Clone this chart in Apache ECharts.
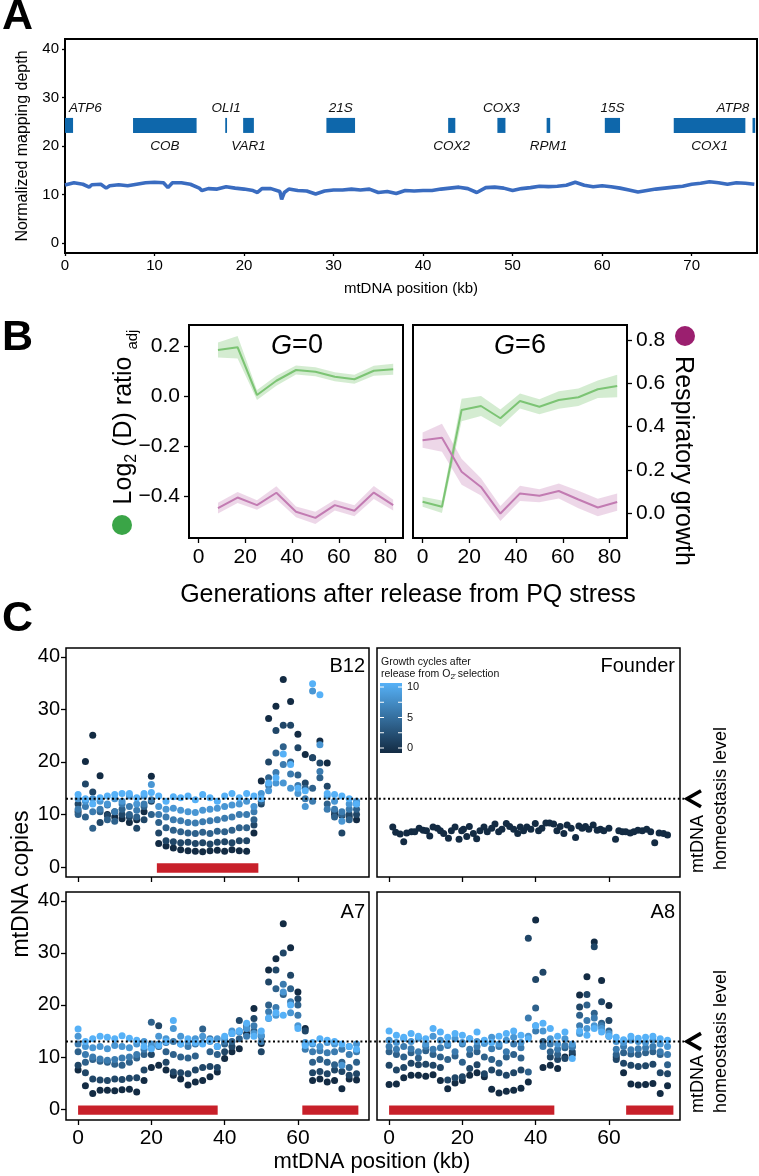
<!DOCTYPE html>
<html><head><meta charset="utf-8">
<script src="https://cdn.jsdelivr.net/npm/echarts@6/dist/echarts.min.js"></script>
<style>html,body{margin:0;padding:0;background:#fff}#c{width:759px;height:1176px}</style>
</head><body><div id="c"></div>
<script>
const FONT = 'Liberation Sans, Arial, Helvetica, sans-serif';

// ---------- Panel A data ----------
const posA = [0,1,2,2.7,3,4,4.6,5,6,7,8,9,10,11,11.5,12,13,14,15,15.3,16,17,18,19,20,21,21.5,22,23,24,24.2,24.5,25,26,27,28,29,30,31,32,33,34,35,36,37,38,39,40,41,42,43,44,45,46,47,48,49,50,51,52,53,54,55,56,57,58,59,60,61,62,63,64,65,66,67,68,69,70,71,72,73,74,75,76,77];
const depthA = [11.96,12.4,12.1,11.5,12.0,12.1,11.3,11.8,12.0,11.8,12.1,12.4,12.5,12.4,11.4,12.4,12.4,12.1,11.3,10.8,11.2,11.1,11.6,11.3,11.1,10.8,10.4,11.2,11.2,10.6,9.0,10.4,11.1,10.8,10.7,10.1,10.7,10.9,10.9,11.1,10.9,11.1,10.4,10.6,10.2,10.8,10.7,10.8,10.8,11.1,11.3,11.5,11.2,10.4,11.4,11.5,11.3,10.8,11.2,11.4,11.7,11.6,11.7,11.9,12.5,11.9,11.6,11.8,11.6,11.3,10.9,10.5,10.8,11.1,11.3,11.5,11.7,12.1,12.3,12.6,12.4,12.1,12.4,12.3,12.1];
const geneNames = ['ATP6','COB','OLI1','VAR1','21S','COX2','COX3','RPM1','15S','COX1','ATP8'];
const geneStart = [0, 7.6, 17.9, 19.9, 29.2, 42.8, 48.3, 53.8, 60.3, 68.0, 76.8];
const geneEnd   = [0.9, 14.7, 18.1, 21.1, 32.4, 43.6, 49.2, 54.2, 62.0, 76.0, 77.1];
const geneSide  = ['top','bottom','top','bottom','top','bottom','top','bottom','top','bottom','top'];
const xTicksA = [0,10,20,30,40,50,60,70];
const yTicksA = [0,10,20,30,40];

// ---------- Panel B data ----------
const genG0 = [8.3,16.7,25,33.3,41.7,50,58.3,66.7,75,83.3];
const logG0 = [0.184,0.195,0.004,0.061,0.104,0.097,0.077,0.067,0.101,0.107];
const logG0Half = [0.03,0.045,0.02,0.02,0.018,0.018,0.018,0.018,0.02,0.022];
const respG0 = [0.023,0.072,0.037,0.094,0.006,-0.022,0.037,0.011,0.095,0.037];
const respG0Half = [0.025,0.025,0.022,0.03,0.025,0.028,0.025,0.025,0.03,0.025];
const genG6 = [0,8.3,16.7,25,33.3,41.7,50,58.3,66.7,75,83.3];
const logG6 = [-0.423,-0.443,-0.056,-0.04,-0.089,-0.02,-0.043,-0.016,-0.005,0.027,0.04];
const logG6Half = [0.02,0.025,0.045,0.04,0.035,0.03,0.03,0.035,0.035,0.035,0.045];
const respG6 = [0.337,0.348,0.191,0.121,-0.002,0.091,0.08,0.102,0.063,0.026,0.051];
const respG6Half = [0.035,0.065,0.06,0.04,0.035,0.035,0.03,0.035,0.04,0.04,0.04];
const xTicksB = [0,20,40,60,80];
const yTicksLog = [-0.4,-0.2,0,0.2];
const yTicksResp = [0,0.2,0.4,0.6,0.8];

// ---------- Panel C data ----------
const posC = [0,2,4,6,8,10,12,14,16,18,20,22,24,26,28,30,32,34,36,38,40,42,44,46,48,50,52,54,56,58,60,62,64,66,68,70,72,74,76];
const cyclesC = [0,2,4,6,8,10];
const b12Copies = [
 [10.5,20.1,25.1,17.4,10,9.5,9.2,8.5,9,10.5,17.3,4.5,4,3.6,3.3,3.1,3,2.9,3.1,3.2,3,3.3,3.1,3,6.5,16.4,28.3,30.6,35.7,31.5,25.3,21.4,20.8,24,19.8,10,9.8,9.5,9],
 [12,15.8,14.3,8.5,9.8,10.5,10,9.5,7.4,9,12.5,6.5,5,4.8,4.6,4.7,4.5,4.6,4.4,4.7,4.8,4.6,5,5,8,12,20,26,27,27,22.7,16,20.8,19.8,15.4,10.5,6.5,10,10],
 [10,9.5,7.4,10.5,9,8.7,11,10,9.5,11.5,10,8.5,7.5,7,6.7,6.5,6.4,6.6,6.4,6.8,6.7,7,7.5,7.5,9,12.5,17,21.7,22.9,20,17.5,15,15,17,12,9.5,10,9,11],
 [11,11.5,10.5,11,11.8,10.5,12,11.5,10.8,12,12.8,10,9.5,9,8.8,8.5,8.4,8.6,8.8,9,9.3,9.5,10,10,10.5,13,15.5,18,19.5,17.7,15.5,13,12.5,18.2,11,11,10.5,11,12],
 [13,12.5,13,12.5,12,13,12.5,13.5,12,13.5,15.7,11.5,11,11.2,10.8,10.5,10.4,10.8,11,11.2,11.5,11.8,12,12.5,11.5,14,14.5,16,16,15,14,11.5,33.5,23.3,13.5,12.5,8.7,12,12.5],
 [13.8,13,12,13.2,13.5,13.8,14,14,13.2,14,14.2,13.5,12.5,13.4,13.2,13.5,12.8,13.8,13.2,12.5,13.5,14,13.2,14,13.5,13,16,17,21.5,19.5,15,14.5,34.9,32.8,14,13.8,13.5,13,12]
];
const a7Copies = [
 [7.5,4.5,3.0,3.6,3.6,3.5,3.7,3.8,3.3,5.5,8.0,8.4,7.5,6.5,5.8,4.6,5.2,5.5,6.2,7.1,9.7,11.0,11.6,14.5,19.3,12.6,26.7,28.9,35.6,31.0,22.5,15.5,5.5,5.8,5.2,5.5,3.9,5.8,5.6],
 [8.4,7.0,5.8,5.6,5.5,5.8,5.7,5.9,6.0,7.5,10.5,16.0,9.0,7.1,7.0,6.8,7.5,8.0,8.2,8.0,11.0,12.0,17.0,15.5,17.4,11.0,24.4,26.7,30.0,25.7,21.2,15.0,7.0,7.2,6.8,7.5,7.2,6.5,6.8],
 [11.0,9.0,9.5,9.2,9.0,8.6,8.4,9.0,9.8,10.5,16.7,12.0,11.0,10.5,10.0,9.8,10.2,15.4,11.0,10.5,12.5,13.0,13.5,16.0,15.0,14.0,20.0,23.1,22.0,23.1,20.0,12.5,9.0,9.5,9.0,8.5,9.0,8.0,9.0],
 [12.5,10.5,10.0,9.6,9.4,9.5,9.8,10.0,10.5,11.5,12.0,12.5,12.8,13.0,12.5,12.0,12.5,12.8,13.5,12.0,13.0,14.5,15.0,14.0,16.0,13.0,18.7,19.5,24.0,20.6,18.0,11.5,11.0,11.2,10.8,11.0,11.5,10.5,11.0],
 [14.0,12.0,11.8,12.0,11.6,12.2,12.0,11.8,12.5,13.0,12.5,14.0,13.5,15.5,14.0,13.0,13.5,14.0,13.0,13.5,13.5,15.0,14.8,15.5,14.5,14.2,17.4,18.0,22.5,18.5,16.0,12.8,12.5,12.0,12.8,12.5,8.4,12.0,12.5],
 [15.4,13.0,13.5,14.0,13.8,13.5,14.1,13.6,13.2,12.0,11.6,12.2,13.0,17.0,12.5,13.5,12.8,12.5,13.2,12.0,14.0,14.5,15.0,16.5,14.0,15.0,17.5,18.5,18.0,20.0,15.5,12.2,12.8,13.5,13.2,13.0,12.5,12.0,11.5]
];
const a8Copies = [
 [4.7,4.8,6.0,6.5,6.5,6.3,6.6,5.5,3.9,5.0,5.5,6.5,7.0,6.2,3.8,3.1,3.4,3.6,4.0,5.2,36.3,8.0,8.4,7.8,10.0,10.5,21.9,25.4,32.1,24.7,19.9,10.0,7.0,4.8,4.6,4.7,4.9,3.0,4.5],
 [8.4,7.5,8.0,8.8,8.5,8.6,8.4,8.0,5.6,6.0,6.2,7.8,8.5,6.8,7.5,7.0,6.5,7.0,7.5,32.8,24.9,26.3,10.0,9.5,9.7,11.0,19.6,22.0,31.2,20.6,17.0,9.5,8.8,8.4,8.2,8.3,8.6,7.0,6.8],
 [11.0,10.5,10.0,10.8,9.8,11.2,10.5,10.0,9.5,10.2,9.0,10.5,11.0,10.0,9.5,8.8,10.0,10.5,9.8,7.1,19.4,13.0,11.0,10.5,11.8,12.0,18.0,20.0,18.4,16.5,15.0,10.5,10.8,10.6,10.5,10.8,11.0,10.5,8.5],
 [12.0,11.5,12.0,11.6,11.0,12.0,11.5,11.8,12.2,11.0,12.5,11.5,12.0,12.8,11.6,12.0,11.0,12.5,11.8,17.5,15.0,12.0,12.5,11.5,12.2,11.9,16.0,17.0,17.5,16.0,14.0,11.5,12.0,11.4,11.6,11.8,12.0,11.0,10.5],
 [13.2,12.8,13.5,13.0,13.6,12.5,14.0,13.2,12.6,13.5,12.8,13.5,13.0,12.6,13.8,12.5,13.2,13.8,12.8,14.0,16.0,15.0,13.5,12.5,13.5,12.5,14.5,15.5,16.0,15.5,14.5,13.0,12.8,13.2,13.0,12.8,13.2,12.5,12.0],
 [15.0,14.2,13.8,14.5,14.0,13.5,15.5,14.8,13.8,14.5,14.2,13.5,14.8,13.2,12.8,14.0,14.5,15.0,14.2,13.5,16.0,16.5,15.5,14.0,14.8,9.7,15.0,14.2,15.5,14.8,14.0,13.8,13.3,14.0,13.6,13.8,14.0,13.5,13.2]
];
const founderPos = [1,1.8,3,4,4.8,6.1,7,8.2,9.3,10.2,11.1,12,13.2,14,14.9,16.2,17,18,19.1,19.8,20.3,21.2,21.9,23,23.9,24.8,25.9,26.8,28,28.9,29.9,30.8,32,32.9,34,35.1,35.8,36.7,37.6,38.7,39.9,40.8,41.7,42.8,43.8,44.9,45.8,46.7,47.7,48.6,49.7,50.9,51.8,52.7,53.6,54.5,55.7,56.8,57.7,58.6,60,61.8,62.7,63.7,64.6,65.8,66.8,67.9,69.1,70.3,71.4,72.5,73.7,74.9,76];
const founderCopies = [7.6,6.6,6.3,4.8,6.5,6.7,6.7,7.4,7.0,6.9,5.9,7.6,7.4,6.9,6.4,5.5,6.9,7.6,5.3,6.9,7.2,5.8,7.7,6.4,5.4,6.9,7.6,6.7,7.4,8.2,6.7,7.2,8.3,7.7,7.2,6.4,7.6,6.9,7.6,7.2,8.3,6.9,7.4,8.4,8.4,8.2,6.9,7.7,6.4,8.0,7.4,5.6,7.8,7.4,7.7,7.2,8.0,7.0,7.2,6.9,7.4,5.3,6.9,6.7,6.7,6.5,6.7,7.0,6.9,7.2,6.7,4.6,6.5,6.4,6.1];
const founderCycle = 0;
const delB12 = [[21.5,49.2]];
const delA7 = [[0,38.1],[61.2,76.5]];
const delA8 = [[0,45.1],[64.7,77.6]];
const homeostasis = 13;
const xTicksC = [0,20,40,60];
const yTicksC = [0,10,20,30,40];
const legendTicks = [0,2.5,5,7.5,10];
const legendLabels = [0,5,10];

// ---------- styles ----------
const GENE_COLOR = '#0e67ab', LINE_A = '#3a6cc0', RED = '#c8202a';
const GREEN = '#7cc474', GREEN_BAND = 'rgba(124,196,116,0.33)';
const PURPLE = '#c27bb2', PURPLE_BAND = 'rgba(194,123,178,0.30)';

const chart = echarts.init(document.getElementById('c'), null, {renderer:'canvas', width:759, height:1176});

const gridDefs = [
  [65,39,692,214,2],[189,325,214,213,2],[413,325,214,213,2],
  [66,648,303,229,1.5],[377,648,303,229,1.5],[66,892,303,228,1.5],[377,892,303,228,1.5]
];
const grid = gridDefs.map(g => ({left:g[0], top:g[1], width:g[2], height:g[3], show:true,
  borderColor:'#000', borderWidth:g[4], backgroundColor:'transparent', containLabel:false, outerBoundsMode:'none'}));

function ax(type, gi, min, max, ticks, showLabel, fs, margin, tickLen, fmt, pos) {
  const a = {type:'value', gridIndex:gi, min, max,
    axisLine:{show:false, onZero:false}, splitLine:{show:false},
    axisTick:{show:ticks!==null, length:tickLen, lineStyle:{color:'#000', width:1.3}, customValues: ticks||[]},
    axisLabel:{show:showLabel, customValues: ticks||[], fontSize:fs, color:'#000', fontFamily:FONT, margin:margin, formatter: fmt || (v=>String(v))}};
  if (pos) a.position = pos;
  return a;
}
const fmt1 = v => (v < 0 ? '\u2212' + Math.abs(v).toFixed(1) : v.toFixed(1));

const xAxis = [
  ax('x',0,0,77.3,xTicksA,true,15,5,3),
  ax('x',1,-4.1,87.5,xTicksB,true,21,9,5),
  ax('x',2,-4.1,87.5,xTicksB,true,21,9,5),
  ax('x',3,-3.3,79.4,xTicksC,false,20,8,5),
  ax('x',4,-3.3,79.4,xTicksC,false,20,8,5),
  ax('x',5,-3.3,79.4,xTicksC,true,21,8,5),
  ax('x',6,-3.3,79.4,xTicksC,true,21,8,5)
];
const yAxis = [
  ax('y',0,-2.1,42.1,yTicksA,true,15,6,3),
  ax('y',1,-0.568,0.284,yTicksLog,true,21,9,5,fmt1,'left'),
  Object.assign(ax('y',1,-0.115,0.869,null,false,10,0,0,null,'right'),{show:false}),
  Object.assign(ax('y',2,-0.568,0.284,null,false,10,0,0,null,'left'),{show:false}),
  ax('y',2,-0.115,0.869,yTicksResp,true,21,9,5,fmt1,'right'),
  ax('y',3,-1.9,41.7,yTicksC,true,20,6,5),
  ax('y',4,-1.9,41.7,null,false,20,6,5),
  ax('y',5,-2.1,41.7,yTicksC,true,20,6,5),
  ax('y',6,-2.1,41.7,null,false,20,6,5)
];

const series = [];
// Panel A genes
series.push({type:'custom', xAxisIndex:0, yAxisIndex:0, silent:true, z:2,
  data: geneNames.map((n,i)=>[geneStart[i], geneEnd[i], i]),
  renderItem:(params, api) => {
    const i = api.value(2);
    const a = api.coord([api.value(0), 25.8]);
    const b = api.coord([api.value(1), 22.7]);
    const mid = (api.value(0)+api.value(1))/2;
    const ly = api.coord([mid, geneSide[i]==='top' ? 27.8 : 19.9])[1];
    let lx = api.coord([mid, 0])[0], align = 'center';
    if (i === 0) { lx = a[0] + 4; align = 'left'; }
    if (i === geneNames.length-1) { lx = b[0] - 6; align = 'right'; }
    return {type:'group', children:[
      {type:'rect', shape:{x:a[0], y:a[1], width:Math.max(b[0]-a[0],1.5), height:b[1]-a[1]}, style:{fill:GENE_COLOR}},
      {type:'text', x:lx, y:ly, style:{text:geneNames[i], fontSize:13.5, fontStyle:'italic', fontFamily:FONT, fill:'#111', align:align, verticalAlign:'middle'}}
    ]};
  }});
series.push({type:'line', xAxisIndex:0, yAxisIndex:0, silent:true, z:3, showSymbol:false, symbol:'none',
  data: posA.map((x,i)=>[x, depthA[i]]), lineStyle:{color:LINE_A, width:3.6}});

// Panel B
function band(xs, mid, half, xi, yi, color) {
  return {type:'custom', xAxisIndex:xi, yAxisIndex:yi, silent:true, z:2,
    data: xs.map((x,i)=>[x, mid[i]-half[i], mid[i]+half[i]]),
    renderItem:(params, api) => {
      if (params.dataIndex !== 0) return null;
      const pts = [];
      for (let i=0;i<xs.length;i++) pts.push(api.coord([xs[i], mid[i]+half[i]]));
      for (let i=xs.length-1;i>=0;i--) pts.push(api.coord([xs[i], mid[i]-half[i]]));
      return {type:'polygon', shape:{points:pts}, style:{fill:color}};
    }};
}
function bline(xs, mid, xi, yi, color) {
  return {type:'line', xAxisIndex:xi, yAxisIndex:yi, silent:true, z:3, showSymbol:false, symbol:'none',
    data: xs.map((x,i)=>[x, mid[i]]), lineStyle:{color:color, width:2}};
}
series.push(band(genG0, logG0, logG0Half, 1, 1, GREEN_BAND));
series.push(band(genG0, respG0, respG0Half, 1, 2, PURPLE_BAND));
series.push(bline(genG0, logG0, 1, 1, GREEN));
series.push(bline(genG0, respG0, 1, 2, PURPLE));
series.push(band(genG6, logG6, logG6Half, 2, 3, GREEN_BAND));
series.push(band(genG6, respG6, respG6Half, 2, 4, PURPLE_BAND));
series.push(bline(genG6, logG6, 2, 3, GREEN));
series.push(bline(genG6, respG6, 2, 4, PURPLE));

// Panel C
const scatterIdx = [];
function scatterPanel(xi, yi, rows) {
  rows.forEach((vals, k) => {
    scatterIdx.push(series.length);
    series.push({type:'scatter', xAxisIndex:xi, yAxisIndex:yi, silent:true, symbolSize:7, z:3,
      data: posC.map((x,i)=>[x, vals[i], cyclesC[k]]), itemStyle:{opacity:1}});
  });
}
function delBars(xi, yi, rows) {
  series.push({type:'custom', xAxisIndex:xi, yAxisIndex:yi, silent:true, z:2, data: rows,
    renderItem:(params, api) => {
      const a = api.coord([api.value(0), 0.7]);
      const b = api.coord([api.value(1), -1.1]);
      return {type:'rect', shape:{x:a[0], y:a[1], width:b[0]-a[0], height:b[1]-a[1]}, style:{fill:RED}};
    }});
}
scatterPanel(3, 5, b12Copies);
delBars(3, 5, delB12);
scatterIdx.push(series.length);
series.push({type:'scatter', xAxisIndex:4, yAxisIndex:6, silent:true, symbolSize:7, z:3,
  data: founderPos.map((x,i)=>[x, founderCopies[i], founderCycle]), itemStyle:{opacity:1}});
scatterPanel(5, 7, a7Copies);
delBars(5, 7, delA7);
scatterPanel(6, 8, a8Copies);
delBars(6, 8, delA8);

chart.setOption({
  animation:false, backgroundColor:'#fff',
  textStyle:{fontFamily:FONT},
  grid, xAxis, yAxis, series,
  visualMap:[{type:'continuous', show:false, min:0, max:10, dimension:2, seriesIndex:scatterIdx,
    inRange:{color:['#132B43','#56B1F7']}}]
});

// ---------- annotations ----------
const T = (x, y, text, fs, opts) => Object.assign({type:'text', x, y, z:100, silent:true,
  style:Object.assign({text, fontSize:fs, fontFamily:FONT, fill:'#000', align:'center', verticalAlign:'middle'}, (opts&&opts.style)||{})},
  opts ? (({style, ...r}) => r)(opts) : {});

const g = [];
g.push(T(2, 17, 'A', 43, {style:{fontWeight:'bold', align:'left'}}));
g.push(T(2, 338, 'B', 43, {style:{fontWeight:'bold', align:'left'}}));
g.push(T(2, 619, 'C', 43, {style:{fontWeight:'bold', align:'left'}}));

// A titles
g.push(T(23, 146, 'Normalized mapping depth', 16, {rotation:Math.PI/2}));
g.push(T(411, 289, 'mtDNA position (kb)', 15));

// B titles
g.push({type:'text', x:297, y:346, z:100, silent:true, style:{text:'{i|G}{n|=0}', align:'center', verticalAlign:'middle',
  rich:{i:{fontSize:27, fontStyle:'italic', fontFamily:FONT, fill:'#000'}, n:{fontSize:27, fontFamily:FONT, fill:'#000'}}}});
g.push({type:'text', x:520, y:346, z:100, silent:true, style:{text:'{i|G}{n|=6}', align:'center', verticalAlign:'middle',
  rich:{i:{fontSize:27, fontStyle:'italic', fontFamily:FONT, fill:'#000'}, n:{fontSize:27, fontFamily:FONT, fill:'#000'}}}});
g.push({type:'text', x:124, y:417, rotation:Math.PI/2, z:100, silent:true, style:{
  text:'{m|Log}{s|2}{m| (D) ratio }{t|adj}', align:'center', verticalAlign:'middle',
  rich:{m:{fontSize:25, fontFamily:FONT, fill:'#000', lineHeight:32},
        s:{fontSize:16, fontFamily:FONT, fill:'#000', lineHeight:16, verticalAlign:'bottom'},
        t:{fontSize:15, fontFamily:FONT, fill:'#000', lineHeight:24, verticalAlign:'bottom'}}}});
g.push({type:'circle', z:100, silent:true, shape:{cx:122, cy:525, r:10}, style:{fill:'#3aa547'}});
g.push(T(683, 461, 'Respiratory growth', 25, {rotation:-Math.PI/2}));
g.push({type:'circle', z:100, silent:true, shape:{cx:685, cy:336, r:10}, style:{fill:'#9b1f6f'}});
g.push(T(408, 595, 'Generations after release from PQ stress', 25));

// C titles
g.push(T(365, 666, 'B12', 20, {style:{align:'right'}}));
g.push(T(675, 666, 'Founder', 20, {style:{align:'right'}}));
g.push(T(365, 912, 'A7', 20, {style:{align:'right'}}));
g.push(T(675, 912, 'A8', 20, {style:{align:'right'}}));
g.push(T(22, 884, 'mtDNA copies', 23, {rotation:Math.PI/2}));
g.push(T(372, 1162, 'mtDNA position (kb)', 22));
[[873, 870],[1113, 1113]].forEach(p => {
  g.push(T(698, p[0], 'mtDNA', 18, {rotation:Math.PI/2, style:{align:'left'}}));
  g.push(T(721, p[1], 'homeostasis level', 18, {rotation:Math.PI/2, style:{align:'left'}}));
});

// homeostasis dotted line and caret, positioned through the axis scale
[[3,5],[5,7]].forEach(([xi, yi]) => {
  const y = chart.convertToPixel({xAxisIndex:xi, yAxisIndex:yi}, [0, homeostasis])[1];
  g.push({type:'line', z:50, silent:true, shape:{x1:66, y1:y, x2:684, y2:y},
    style:{stroke:'#000', lineWidth:2, lineDash:[2,2.6]}});
  g.push({type:'polyline', z:100, silent:true, shape:{points:[[701,y-8],[687,y],[701,y+8]]},
    style:{stroke:'#000', lineWidth:3.6, fill:null}});
});

// colour legend
const lgTop = 683, lgH = 70, lgX = 380, lgW = 22;
const lgY = v => 748 - v * 6.1;
g.push({type:'rect', z:100, silent:true, shape:{x:lgX, y:lgTop, width:lgW, height:lgH},
  style:{fill:{type:'linear', x:0, y:0, x2:0, y2:1, colorStops:[{offset:0, color:'#56B1F7'},{offset:1, color:'#132B43'}]}}});
legendTicks.forEach(v => {
  const y = lgY(v);
  g.push({type:'line', z:101, silent:true, shape:{x1:lgX, y1:y, x2:lgX+4, y2:y}, style:{stroke:'#fff', lineWidth:1}});
  g.push({type:'line', z:101, silent:true, shape:{x1:lgX+lgW-4, y1:y, x2:lgX+lgW, y2:y}, style:{stroke:'#fff', lineWidth:1}});
});
legendLabels.forEach(v => g.push(T(407, lgY(v), String(v), 11, {style:{align:'left', fill:'#111'}})));
g.push(T(381, 662, 'Growth cycles after', 10.5, {style:{align:'left', fill:'#111'}}));
g.push({type:'text', x:381, y:674, z:100, silent:true, style:{text:'{a|release from O}{s|2\u0304}{a| selection}',
  align:'left', verticalAlign:'middle',
  rich:{a:{fontSize:10.5, fontFamily:FONT, fill:'#111', lineHeight:14}, s:{fontSize:8, fontFamily:FONT, fill:'#111', lineHeight:9, verticalAlign:'bottom'}}}});

chart.setOption({graphic:{elements:g}});
</script></body></html>
